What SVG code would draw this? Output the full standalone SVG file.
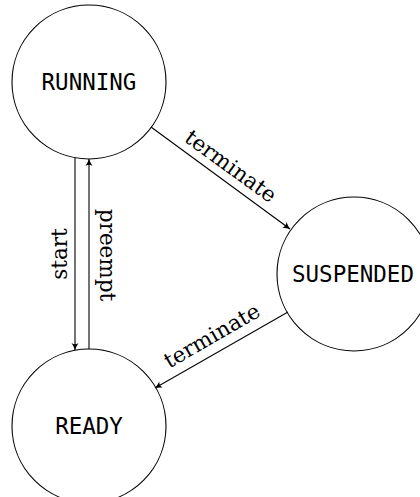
<svg xmlns="http://www.w3.org/2000/svg" width="420" height="497" viewBox="0 0 420 497">
  <defs>
    <marker id="arrow" viewBox="-8 -5 10 10" refX="0" refY="0" markerWidth="10" markerHeight="10" markerUnits="userSpaceOnUse" orient="auto">
      <path d="M0,0 Q-3,-1 -7,-3.5 Q-4.5,0 -7,3.5 Q-3,1 0,0 Z" fill="#000"/>
    </marker>
  </defs>
  <style>
    .state { fill: #fff; stroke: #000; stroke-width: 1.1; }
    .name { font-family: "DejaVu Sans Mono", monospace; font-size: 22.5px; fill: #000; text-anchor: middle; }
    .edge { fill: none; stroke: #000; stroke-width: 1.1; marker-end: url(#arrow); }
    .label { font-family: "DejaVu Serif", serif; font-size: 21.5px; fill: #000; text-anchor: middle; }
  </style>
  <rect width="420" height="497" fill="#fff"/>

  <g id="running">
    <circle class="state" cx="89" cy="82" r="77"/>
    <text class="name" x="89" y="90">RUNNING</text>
  </g>
  <g id="suspended">
    <circle class="state" cx="354" cy="274" r="77"/>
    <text class="name" x="353" y="282">SUSPENDED</text>
  </g>
  <g id="ready">
    <circle class="state" cx="89" cy="426" r="77"/>
    <text class="name" x="89" y="434">READY</text>
  </g>

  <g id="connectors">
    <!-- start: RUNNING -> READY -->
    <line class="edge" x1="75" y1="158" x2="75" y2="350"/>
    <text class="label" transform="translate(66.5,254) rotate(-90)">start</text>
    <!-- preempt: READY -> RUNNING -->
    <line class="edge" x1="89" y1="349" x2="89" y2="159"/>
    <text class="label" transform="translate(99.5,255) rotate(90)">preempt</text>
    <!-- terminate: RUNNING -> SUSPENDED -->
    <line class="edge" x1="151" y1="127" x2="290" y2="229"/>
    <text class="label" transform="translate(226.5,172) rotate(36)">terminate</text>
    <!-- terminate: SUSPENDED -> READY -->
    <line class="edge" x1="288" y1="312" x2="155" y2="388"/>
    <text class="label" transform="translate(215.5,342) rotate(-30)">terminate</text>
  </g>
</svg>
